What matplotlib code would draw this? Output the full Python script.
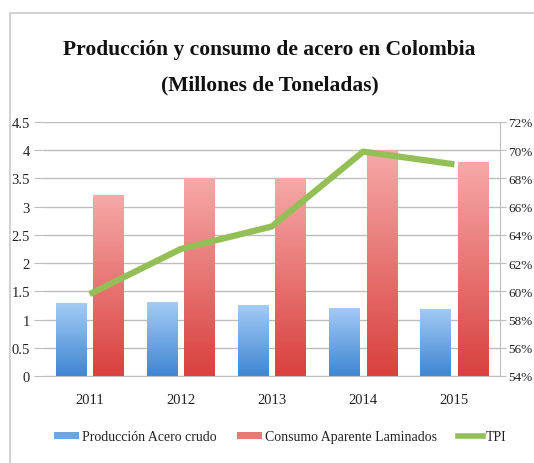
import matplotlib.pyplot as plt
import numpy as np
from matplotlib.colors import LinearSegmentedColormap
from matplotlib.patches import Rectangle
from matplotlib.lines import Line2D
from matplotlib.ticker import FuncFormatter

# Datos
years = ['2011', '2012', '2013', '2014', '2015']
produccion = [1.29, 1.31, 1.25, 1.21, 1.19]
consumo = [3.2, 3.5, 3.5, 4.0, 3.8]
tpi = [59.8, 63.0, 64.6, 69.9, 69.0]

plt.rcParams['font.family'] = ['Liberation Serif', 'DejaVu Serif']
txt = '#222222'
grid_c = '#bdbdbd'

fig = plt.figure(figsize=(5.34, 4.64), dpi=100)
ax = fig.add_axes([44 / 534, 87 / 464, 456 / 534, 254 / 464])

# marco exterior
fig.patches.append(Rectangle((10 / 534, -0.05), 1.0, 1.05 - 14 / 464,
                             transform=fig.transFigure, fill=False,
                             edgecolor='#c9c9c9', linewidth=1.2))

x = np.arange(len(years))
w = 0.335
off = 0.205

blue_cm = LinearSegmentedColormap.from_list('azul', ['#3f86d2', '#a3cbf6'])
red_cm = LinearSegmentedColormap.from_list('rojo', ['#d8413e', '#f6a9a8'])


def gradient_bars(pos, vals, cmap):
    bars = ax.bar(pos, vals, w, facecolor='none', edgecolor='none', zorder=2)
    grad = np.linspace(0, 1, 256).reshape(-1, 1)
    for b in bars:
        x0, y0 = b.get_xy()
        im = ax.imshow(grad, extent=[x0, x0 + b.get_width(), y0, y0 + b.get_height()],
                       origin='lower', aspect='auto', cmap=cmap, zorder=2)
        im.set_clip_path(b)
    return bars


gradient_bars(x - off, produccion, blue_cm)
gradient_bars(x + off, consumo, red_cm)

ax.set_xlim(-0.5, len(years) - 0.5)
ax.set_ylim(0, 4.5)
ax.set_yticks(np.arange(0, 4.51, 0.5))
ax.yaxis.set_major_formatter(FuncFormatter(lambda v, p: f'{v:g}'))
ax.set_xticks(x)
ax.set_xticklabels(years)
ax.grid(axis='y', color=grid_c, linewidth=1, zorder=0)
ax.set_axisbelow(True)
for s in ['top', 'right', 'left']:
    ax.spines[s].set_visible(False)
ax.spines['bottom'].set_color(grid_c)
ax.tick_params(axis='y', length=7, color=grid_c, labelsize=10.5, labelcolor=txt, pad=3)
ax.tick_params(axis='x', length=0, labelsize=10.5, labelcolor=txt, pad=12)

# eje secundario TPI
ax2 = ax.twinx()
ax2.plot(x, tpi, color='#93bf56', linewidth=4.5, solid_capstyle='butt', zorder=3)
ax2.set_ylim(54, 72)
ax2.set_yticks(np.arange(54, 72.1, 2))
ax2.yaxis.set_major_formatter(FuncFormatter(lambda v, p: f'{v:.0f}%'))
for s in ['top', 'left', 'bottom']:
    ax2.spines[s].set_visible(False)
ax2.spines['right'].set_color(grid_c)
ax2.tick_params(axis='y', length=4, color=grid_c, labelsize=9.5, labelcolor=txt, pad=2)

fig.text(0.505, 1 - 50 / 464, 'Producción y consumo de acero en Colombia',
         ha='center', va='center', fontsize=15.5, fontweight='bold', color='#111111')
fig.text(0.505, 1 - 85 / 464, '(Millones de Toneladas)',
         ha='center', va='center', fontsize=15.5, fontweight='bold', color='#111111')

handles = [Rectangle((0, 0), 1, 1, facecolor='#6aa5e6'),
           Rectangle((0, 0), 1, 1, facecolor='#ec7774'),
           Line2D([], [], color='#93bf56', linewidth=4)]
labels = ['Producción Acero crudo', 'Consumo Aparente Laminados', 'TPI']
fig.legend(handles, labels, loc='center', bbox_to_anchor=(280 / 534, 1 - 438 / 464),
           ncol=3, frameon=False, fontsize=10, handlelength=1.8, handleheight=0.45,
           handletextpad=0.2, columnspacing=1.5, labelcolor=txt)

fig.savefig('out.png', dpi=100)
